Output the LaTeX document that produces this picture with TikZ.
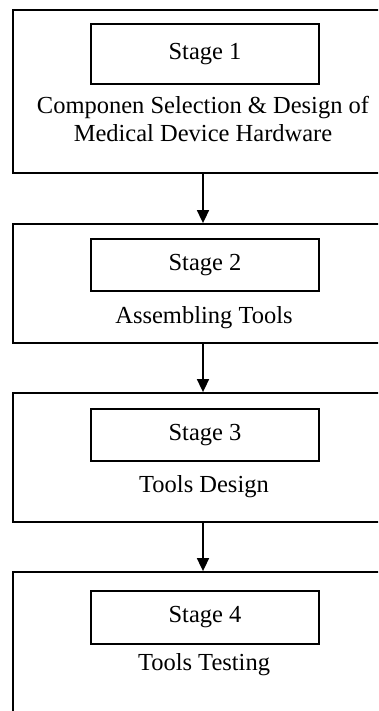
\documentclass[tikz,border=0pt]{standalone}
\usepackage{fontspec}
\setmainfont{Liberation Serif}
\usetikzlibrary{arrows.meta}
\begin{document}
\begin{tikzpicture}[x=1pt,y=-1pt,
  outer/.style={draw, line width=1.8pt, minimum width=380pt, inner sep=0pt},
  stagebox/.style={draw, line width=1.7pt, minimum width=228pt, inner sep=0pt},
  label/.style={font=\fontsize{24.5}{28}\selectfont, align=center, inner sep=0pt},
  flow/.style={line width=1.7pt, -{Triangle[length=13pt,width=12pt]}}
]
\useasboundingbox (0,0) rectangle (378,711);
\clip (0,0) rectangle (378,711);

% stage containers
\node[outer, minimum height=163pt] (o1) at (203,91.5) {};
\node[outer, minimum height=119pt] (o2) at (203,283.5) {};
\node[outer, minimum height=129pt] (o3) at (203,457.5) {};
\node[outer, minimum height=150pt] (o4) at (203,647) {};

% stage headers
\node[stagebox, minimum height=60pt] (s1) at (205,54) {};
\node[stagebox, minimum height=52pt] (s2) at (205,265) {};
\node[stagebox, minimum height=52pt] (s3) at (205,435) {};
\node[stagebox, minimum height=53pt] (s4) at (205,617.5) {};
\node[label] (t1) at (s1) {Stage 1};
\node[label] (t2) at (s2) {Stage 2};
\node[label] (t3) at (s3) {Stage 3};
\node[label] (t4) at (s4) {Stage 4};

% stage descriptions
\node[label] (d1) at (203,119) {Componen Selection \& Design of\\Medical Device Hardware};
\node[label] (d2) at (204,318) {Assembling Tools};
\node[label] (d3) at (204,487) {Tools Design};
\node[label] (d4) at (204,665) {Tools Testing};

% flow between stages
\draw[flow] (o1.south) -- (o2.north);
\draw[flow] (o2.south) -- (o3.north);
\draw[flow] (o3.south) -- (o4.north);
\end{tikzpicture}
\end{document}
